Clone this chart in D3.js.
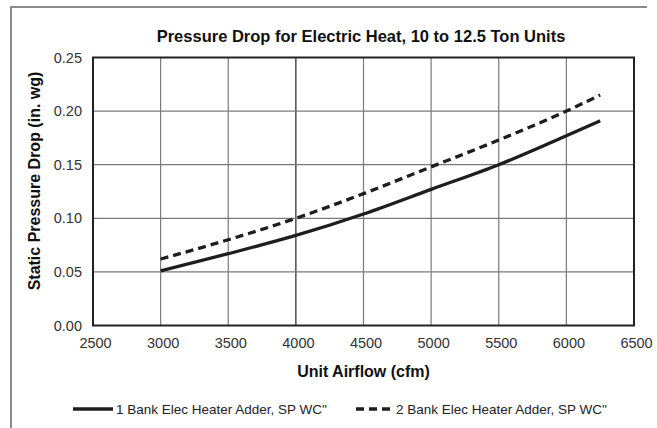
<!DOCTYPE html>
<html>
<head>
<meta charset="utf-8">
<script src="https://cdn.jsdelivr.net/npm/d3@7"></script>
<style>
  html, body { margin: 0; padding: 0; background: #fff; }
  svg { display: block; font-family: "Liberation Sans", Arial, sans-serif; }
</style>
</head>
<body>
<svg id="chart" width="657" height="428"></svg>
<script>
// Airflow points (cfm) and pressure drop (in. wg) for each heater bank option
const airflow = [3000, 3500, 4000, 4500, 5000, 5500, 6000, 6250];
const oneBank = [0.051, 0.067, 0.084, 0.104, 0.127, 0.150, 0.177, 0.191];
const twoBank = [0.062, 0.080, 0.100, 0.123, 0.148, 0.173, 0.200, 0.215];
const seriesNames = ["1 Bank Elec Heater Adder, SP WC\"", "2 Bank Elec Heater Adder, SP WC\""];
const xTicks = [2500, 3000, 3500, 4000, 4500, 5000, 5500, 6000, 6500];
const yTicks = [0, 0.05, 0.10, 0.15, 0.20, 0.25];

const svg = d3.select("#chart");
const W = 657, H = 428;
const plot = { left: 93, right: 634, top: 57.5, bottom: 325.5 };
const FONT = "Liberation Sans, Arial, sans-serif";

// outer frame (top and left edges visible)
svg.append("path")
  .attr("d", `M11,${H + 5} V7 H647`)
  .attr("fill", "none").attr("stroke", "#8a8a8a").attr("stroke-width", 2);

const x = d3.scaleLinear().domain([2500, 6500]).range([plot.left, plot.right]);
const y = d3.scaleLinear().domain([0, 0.25]).range([plot.bottom, plot.top]);

// grid
const grid = svg.append("g");
grid.selectAll("line.v").data(xTicks.slice(1, -1)).join("line")
  .attr("x1", d => x(d)).attr("x2", d => x(d))
  .attr("y1", plot.top).attr("y2", plot.bottom)
  .attr("stroke", d => d === 4000 ? "#222" : "#7a7a7a").attr("stroke-width", 1.2);
grid.selectAll("line.h").data(yTicks.slice(1, -1)).join("line")
  .attr("x1", plot.left).attr("x2", plot.right)
  .attr("y1", d => y(d)).attr("y2", d => y(d))
  .attr("stroke", "#7a7a7a").attr("stroke-width", 1.2);

// plot border
svg.append("rect")
  .attr("x", plot.left).attr("y", plot.top)
  .attr("width", plot.right - plot.left).attr("height", plot.bottom - plot.top)
  .attr("fill", "none").attr("stroke", "#222").attr("stroke-width", 2);

// axes
const xAxis = d3.axisBottom(x).tickValues(xTicks).tickSize(0).tickPadding(12).tickFormat(d3.format("d"));
const gx = svg.append("g").attr("transform", `translate(2,${plot.bottom})`).call(xAxis);
gx.select(".domain").remove();
gx.selectAll("text").attr("font-size", 14.5).attr("fill", "#333").attr("font-family", FONT);

const yAxis = d3.axisLeft(y).tickValues(yTicks).tickSize(0).tickPadding(11).tickFormat(d3.format(".2f"));
const gy = svg.append("g").attr("transform", `translate(${plot.left},0)`).call(yAxis);
gy.select(".domain").remove();
gy.selectAll("text").attr("font-size", 14.5).attr("fill", "#333").attr("font-family", FONT);

// series
const line = d3.line().x(d => x(d[0])).y(d => y(d[1])).curve(d3.curveMonotoneX);
const series = [
  { name: seriesNames[0], values: airflow.map((a, i) => [a, oneBank[i]]), dash: null },
  { name: seriesNames[1], values: airflow.map((a, i) => [a, twoBank[i]]), dash: "8,5" }
];
svg.selectAll("path.series").data(series).join("path")
  .attr("class", "series")
  .attr("d", d => line(d.values))
  .attr("fill", "none").attr("stroke", "#1e1e1e").attr("stroke-width", 3.3)
  .attr("stroke-dasharray", d => d.dash);

// titles
svg.append("text").attr("x", 361).attr("y", 42).attr("text-anchor", "middle")
  .attr("font-size", 16.5).attr("font-weight", "bold").attr("fill", "#111")
  .text("Pressure Drop for Electric Heat, 10 to 12.5 Ton Units");
svg.append("text").attr("x", (plot.left + plot.right) / 2).attr("y", 377).attr("text-anchor", "middle")
  .attr("font-size", 16).attr("font-weight", "bold").attr("fill", "#111")
  .text("Unit Airflow (cfm)");
svg.append("text")
  .attr("transform", `translate(40,181) rotate(-90)`)
  .attr("text-anchor", "middle").attr("font-size", 16).attr("font-weight", "bold").attr("fill", "#111")
  .text("Static Pressure Drop (in. wg)");

// legend
const legendX = [73, 356];
const lg = svg.selectAll("g.legend").data(series).join("g")
  .attr("class", "legend")
  .attr("transform", (d, i) => `translate(${legendX[i]},409)`);
lg.append("line").attr("x1", 0).attr("x2", (d, i) => i === 0 ? 40 : 34).attr("y1", 0).attr("y2", 0)
  .attr("stroke", "#1e1e1e").attr("stroke-width", 3.3)
  .attr("stroke-dasharray", d => d.dash);
lg.append("text").attr("x", (d, i) => i === 0 ? 43 : 40).attr("y", 5).attr("font-size", 13.5).attr("fill", "#222")
  .text(d => d.name);
</script>
</body>
</html>
